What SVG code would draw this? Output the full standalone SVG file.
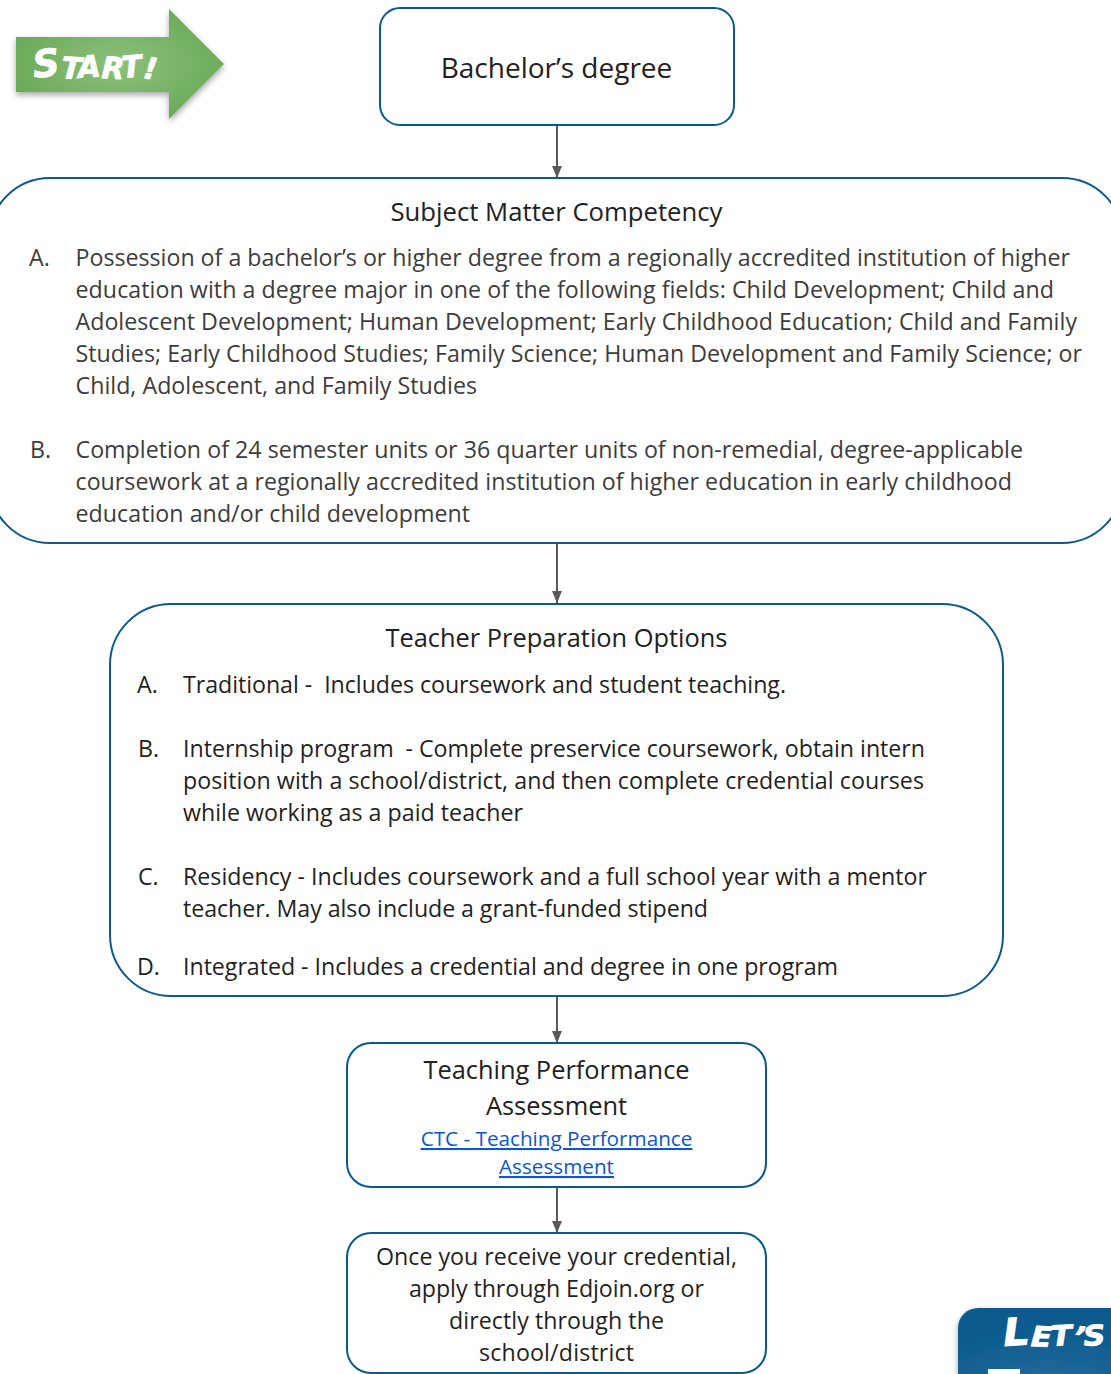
<svg xmlns="http://www.w3.org/2000/svg" width="1111" height="1374" viewBox="0 0 1111 1374">
<style>
text{font-family:"Open Sans","Noto Sans",sans-serif;fill:#212121;white-space:pre}
.box{fill:#fff;stroke:#0b5a8e;stroke-width:2}
.b{font-size:23.2px;fill:#3c3c3c}
.d{font-size:23.2px;fill:#1f1f1f}
.h{font-size:25.4px}
.c{text-anchor:middle}
.l{font-size:20.7px;fill:#1155cc;text-decoration:underline}
.hand{font-family:"DejaVu Sans",sans-serif;font-weight:700;font-style:italic;fill:#fff;stroke:#fff;stroke-width:.8}
.cn{stroke:#595959;stroke-width:2;fill:none;marker-end:url(#ah)}
</style>
<defs>
<marker id="ah" markerUnits="userSpaceOnUse" markerWidth="13" markerHeight="11" refX="12" refY="5.5" orient="auto"><path d="M0 0.5L12 5.5L0 10.5Z" fill="#595959"/></marker>
<radialGradient id="gs" cx="0.5" cy="0.5" r="0.55"><stop offset="0" stop-color="#8cc07a"/><stop offset="1" stop-color="#6aaa5a"/></radialGradient>
<radialGradient id="gb" cx="0.5" cy="1" r="0.8"><stop offset="0" stop-color="#2a6f9e"/><stop offset="1" stop-color="#0b5a8e"/></radialGradient>
<filter id="sh" x="-10%" y="-10%" width="120%" height="125%"><feDropShadow dx="0" dy="3" stdDeviation="3" flood-color="#000" flood-opacity="0.35"/></filter>
</defs>
<g id="connectors">
<path class="cn" d="M557 125V178"/>
<path class="cn" d="M557 543V603"/>
<path class="cn" d="M557 996V1043"/>
<path class="cn" d="M557 1187V1233"/>
</g>
<g id="start">
<path d="M16 37H169V9L224 64L169 119V92H16Z" fill="url(#gs)" filter="url(#sh)"/>
<text class="hand" x="34" y="78" font-size="30" rotate="-6 4 -4 3 -5 8" textLength="122" lengthAdjust="spacingAndGlyphs"><tspan font-size="38">S</tspan>TART!</text>
</g>
<g id="bachelor">
<rect class="box" x="380" y="8" width="354" height="117" rx="20"/>
<text class="c" font-size="28" x="556.5" y="78">Bachelor’s degree</text>
</g>
<g id="subject">
<rect class="box" x="-11" y="178" width="1134" height="365" rx="61"/>
<text class="c" x="556.5" y="221" style="font-size:25.7px">Subject Matter Competency</text>
<text class="b" x="29" y="266">A.</text>
<text class="b" x="75.5" y="266" textLength="994.5">Possession of a bachelor’s or higher degree from a regionally accredited institution of higher</text>
<text class="b" x="75.5" y="298" textLength="978.5">education with a degree major in one of the following fields: Child Development; Child and</text>
<text class="b" x="75.5" y="330" textLength="1001.5">Adolescent Development; Human Development; Early Childhood Education; Child and Family</text>
<text class="b" x="75.5" y="362" textLength="1006.5">Studies; Early Childhood Studies; Family Science; Human Development and Family Science; or</text>
<text class="b" x="75.5" y="394" textLength="401.5">Child, Adolescent, and Family Studies</text>
<text class="b" x="30" y="458">B.</text>
<text class="b" x="75.5" y="458" textLength="947.5">Completion of 24 semester units or 36 quarter units of non-remedial, degree-applicable</text>
<text class="b" x="75.5" y="490" textLength="936.5">coursework at a regionally accredited institution of higher education in early childhood</text>
<text class="b" x="75.5" y="522" textLength="394.5">education and/or child development</text>
</g>
<g id="teacher">
<rect class="box" x="110" y="604" width="893" height="392" rx="61"/>
<text class="h c" x="556.5" y="647">Teacher Preparation Options</text>
<text class="d" x="137" y="693">A.</text>
<text class="d" x="183" y="693" textLength="603">Traditional -  Includes coursework and student teaching.</text>
<text class="d" x="138" y="757">B.</text>
<text class="d" x="183" y="757" textLength="742">Internship program  - Complete preservice coursework, obtain intern</text>
<text class="d" x="183" y="789" textLength="741">position with a school/district, and then complete credential courses</text>
<text class="d" x="183" y="821" textLength="340">while working as a paid teacher</text>
<text class="d" x="138" y="885">C.</text>
<text class="d" x="183" y="885" textLength="744">Residency - Includes coursework and a full school year with a mentor</text>
<text class="d" x="183" y="917" textLength="525">teacher. May also include a grant-funded stipend</text>
<text class="d" x="137" y="975">D.</text>
<text class="d" x="183" y="975" textLength="655">Integrated - Includes a credential and degree in one program</text>
</g>
<g id="tpa">
<rect class="box" x="347" y="1043" width="419" height="144" rx="24"/>
<text class="h c" x="556.5" y="1079">Teaching Performance</text>
<text class="h c" x="556.5" y="1115">Assessment</text>
<text class="l c" x="556.5" y="1146">CTC - Teaching Performance</text>
<text class="l c" x="556.5" y="1174">Assessment</text>
</g>
<g id="apply">
<rect class="box" x="347" y="1233" width="419" height="140" rx="24"/>
<text class="d c" x="556.5" y="1265" textLength="361">Once you receive your credential,</text>
<text class="d c" x="556.5" y="1297" textLength="295">apply through Edjoin.org or</text>
<text class="d c" x="556.5" y="1329" textLength="215">directly through the</text>
<text class="d c" x="556.5" y="1361" textLength="155">school/district</text>
</g>
<g id="lets">
<rect x="958" y="1308" width="180" height="90" rx="20" fill="url(#gb)" filter="url(#sh)"/>
<text class="hand" x="1004" y="1346" font-size="28" rotate="-4 3 -3 6 -4" textLength="102" lengthAdjust="spacingAndGlyphs"><tspan font-size="38">L</tspan>ET’S</text>
<rect x="988" y="1369" width="32" height="5" fill="#fff"/>
</g>
</svg>
